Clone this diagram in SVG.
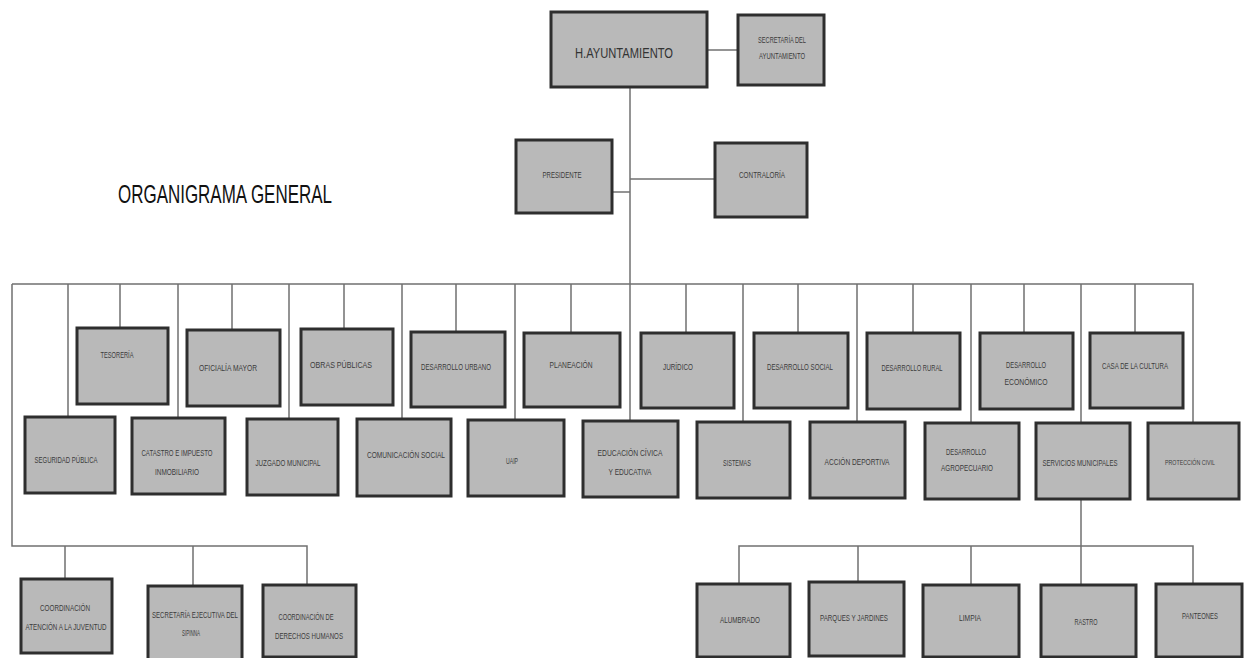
<svg xmlns="http://www.w3.org/2000/svg" width="1245" height="658" viewBox="0 0 1245 658">
<style>
.b{fill:#b9b9b9;stroke:#2e2e2e;stroke-width:3}
.c{fill:none;stroke:#707070;stroke-width:1.5}
.t{font-family:"Liberation Sans",Arial,sans-serif;font-size:9px;fill:#3c3c3c;text-anchor:middle}
.h{font-family:"Liberation Sans",Arial,sans-serif;font-size:15px;fill:#333;text-anchor:middle}
.title{font-family:"Liberation Sans",Arial,sans-serif;font-size:26px;fill:#111}
</style>
<rect width="1245" height="658" fill="#ffffff"/>
<text class="title" x="118" y="203" textLength="214" lengthAdjust="spacingAndGlyphs">ORGANIGRAMA GENERAL</text>
<g id="connectors">
<path class="c" d="M707 50H738"/>
<path class="c" d="M630 87V421"/>
<path class="c" d="M612 192H630"/>
<path class="c" d="M630 179H715"/>
<path class="c" d="M12 284H1193V423"/>
<path class="c" d="M12 284V546H307V585"/>
<path class="c" d="M65 546V579M193 546V586"/>
<path class="c" d="M120 284V328M232 284V330M344 284V329M456 284V332M571 284V333M686 284V333M798 284V333M913 284V333M1024 284V333M1135 284V333"/>
<path class="c" d="M68 284V417M178 284V418M289 284V419M402 284V419M515 284V420M743 284V422M857 284V422M971 284V423M1081 284V423"/>
<path class="c" d="M1081 499V585"/>
<path class="c" d="M739 584V546H1193V584"/>
<path class="c" d="M858 546V582M971 546V585"/>
</g>
<g id="ayuntamiento"><rect class="b" x="551" y="12" width="156" height="75"/><text class="h" x="624" y="58" textLength="98" lengthAdjust="spacingAndGlyphs">H.AYUNTAMIENTO</text></g>
<g id="secretaria-ayuntamiento"><rect class="b" x="738" y="15" width="86" height="70"/><text class="t" x="782" y="43" textLength="48" lengthAdjust="spacingAndGlyphs">SECRETARÍA DEL</text><text class="t" x="782" y="59" textLength="46" lengthAdjust="spacingAndGlyphs">AYUNTAMIENTO</text></g>
<g id="presidente"><rect class="b" x="516" y="140" width="96" height="73"/><text class="t" x="562" y="178" textLength="39" lengthAdjust="spacingAndGlyphs">PRESIDENTE</text></g>
<g id="contraloria"><rect class="b" x="715" y="143" width="92" height="74"/><text class="t" x="762" y="178" textLength="46" lengthAdjust="spacingAndGlyphs">CONTRALORÍA</text></g>

<g id="tesoreria"><rect class="b" x="77" y="328" width="91" height="76"/><text class="t" x="117" y="358" textLength="33" lengthAdjust="spacingAndGlyphs">TESORERÍA</text></g>
<g id="oficialia"><rect class="b" x="187" y="330" width="93" height="76"/><text class="t" x="228" y="371" textLength="58" lengthAdjust="spacingAndGlyphs">OFICIALÍA MAYOR</text></g>
<g id="obras"><rect class="b" x="301" y="329" width="92" height="76"/><text class="t" x="341" y="368" textLength="62" lengthAdjust="spacingAndGlyphs">OBRAS PÚBLICAS</text></g>
<g id="urbano"><rect class="b" x="411" y="332" width="94" height="75"/><text class="t" x="456" y="370" textLength="70" lengthAdjust="spacingAndGlyphs">DESARROLLO URBANO</text></g>
<g id="planeacion"><rect class="b" x="524" y="333" width="96" height="74"/><text class="t" x="571" y="368" textLength="43" lengthAdjust="spacingAndGlyphs">PLANEACIÓN</text></g>
<g id="juridico"><rect class="b" x="641" y="333" width="93" height="75"/><text class="t" x="678" y="370" textLength="30" lengthAdjust="spacingAndGlyphs">JURÍDICO</text></g>
<g id="social"><rect class="b" x="754" y="333" width="94" height="75"/><text class="t" x="800" y="370" textLength="66" lengthAdjust="spacingAndGlyphs">DESARROLLO SOCIAL</text></g>
<g id="rural"><rect class="b" x="867" y="333" width="93" height="76"/><text class="t" x="912" y="371" textLength="61" lengthAdjust="spacingAndGlyphs">DESARROLLO RURAL</text></g>
<g id="economico"><rect class="b" x="980" y="333" width="93" height="76"/><text class="t" x="1026" y="368" textLength="40" lengthAdjust="spacingAndGlyphs">DESARROLLO</text><text class="t" x="1026" y="385" textLength="43" lengthAdjust="spacingAndGlyphs">ECONÓMICO</text></g>
<g id="cultura"><rect class="b" x="1090" y="333" width="93" height="75"/><text class="t" x="1135" y="369" textLength="66" lengthAdjust="spacingAndGlyphs">CASA DE LA CULTURA</text></g>

<g id="seguridad"><rect class="b" x="25" y="417" width="90" height="76"/><text class="t" x="66" y="463" textLength="63" lengthAdjust="spacingAndGlyphs">SEGURIDAD PÚBLICA</text></g>
<g id="catastro"><rect class="b" x="132" y="418" width="93" height="76"/><text class="t" x="177" y="456" textLength="71" lengthAdjust="spacingAndGlyphs">CATASTRO E IMPUESTO</text><text class="t" x="177" y="475" textLength="44" lengthAdjust="spacingAndGlyphs">INMOBILIARIO</text></g>
<g id="juzgado"><rect class="b" x="247" y="419" width="91" height="76"/><text class="t" x="288" y="466" textLength="65" lengthAdjust="spacingAndGlyphs">JUZGADO MUNICIPAL</text></g>
<g id="comunicacion"><rect class="b" x="357" y="419" width="94" height="77"/><text class="t" x="406" y="458" textLength="78" lengthAdjust="spacingAndGlyphs">COMUNICACIÓN SOCIAL</text></g>
<g id="uaip"><rect class="b" x="468" y="420" width="96" height="76"/><text class="t" x="512" y="464" textLength="12" lengthAdjust="spacingAndGlyphs">UAIP</text></g>
<g id="educacion"><rect class="b" x="583" y="421" width="95" height="76"/><text class="t" x="630" y="456" textLength="65" lengthAdjust="spacingAndGlyphs">EDUCACIÓN CÍVICA</text><text class="t" x="630" y="475" textLength="43" lengthAdjust="spacingAndGlyphs">Y EDUCATIVA</text></g>
<g id="sistemas"><rect class="b" x="697" y="422" width="93" height="76"/><text class="t" x="737" y="466" textLength="28" lengthAdjust="spacingAndGlyphs">SISTEMAS</text></g>
<g id="accion"><rect class="b" x="810" y="422" width="95" height="76"/><text class="t" x="857" y="465" textLength="65" lengthAdjust="spacingAndGlyphs">ACCIÓN DEPORTIVA</text></g>
<g id="agropecuario"><rect class="b" x="925" y="423" width="94" height="76"/><text class="t" x="966" y="455" textLength="40" lengthAdjust="spacingAndGlyphs">DESARROLLO</text><text class="t" x="967" y="471" textLength="52" lengthAdjust="spacingAndGlyphs">AGROPECUARIO</text></g>
<g id="servicios"><rect class="b" x="1036" y="423" width="94" height="76"/><text class="t" x="1080" y="466" textLength="75" lengthAdjust="spacingAndGlyphs">SERVICIOS MUNICIPALES</text></g>
<g id="proteccion"><rect class="b" x="1148" y="423" width="91" height="76"/><text class="t" x="1190" y="465" style="font-size:8px" textLength="50" lengthAdjust="spacingAndGlyphs">PROTECCIÓN CIVIL</text></g>

<g id="juventud"><rect class="b" x="21" y="579" width="91" height="74"/><text class="t" x="65" y="611" textLength="50" lengthAdjust="spacingAndGlyphs">COORDINACIÓN</text><text class="t" x="66" y="630" textLength="81" lengthAdjust="spacingAndGlyphs">ATENCIÓN A LA JUVENTUD</text></g>
<g id="sipinna"><rect class="b" x="148" y="586" width="94" height="76"/><text class="t" x="195" y="618" textLength="86" lengthAdjust="spacingAndGlyphs">SECRETARÍA EJECUTIVA DEL</text><text class="t" x="191" y="636" textLength="18" lengthAdjust="spacingAndGlyphs">SIPINNA</text></g>
<g id="derechos"><rect class="b" x="263" y="585" width="93" height="72"/><text class="t" x="306" y="620" textLength="55" lengthAdjust="spacingAndGlyphs">COORDINACIÓN DE</text><text class="t" x="309" y="639" textLength="68" lengthAdjust="spacingAndGlyphs">DERECHOS HUMANOS</text></g>

<g id="alumbrado"><rect class="b" x="697" y="584" width="93" height="73"/><text class="t" x="740" y="623" textLength="40" lengthAdjust="spacingAndGlyphs">ALUMBRADO</text></g>
<g id="parques"><rect class="b" x="809" y="582" width="95" height="74"/><text class="t" x="854" y="621" textLength="68" lengthAdjust="spacingAndGlyphs">PARQUES Y JARDINES</text></g>
<g id="limpia"><rect class="b" x="923" y="585" width="96" height="72"/><text class="t" x="970" y="621" textLength="22" lengthAdjust="spacingAndGlyphs">LIMPIA</text></g>
<g id="rastro"><rect class="b" x="1041" y="585" width="95" height="72"/><text class="t" x="1086" y="625" textLength="23" lengthAdjust="spacingAndGlyphs">RASTRO</text></g>
<g id="panteones"><rect class="b" x="1156" y="584" width="86" height="73"/><text class="t" x="1200" y="619" textLength="36" lengthAdjust="spacingAndGlyphs">PANTEONES</text></g>
</svg>
